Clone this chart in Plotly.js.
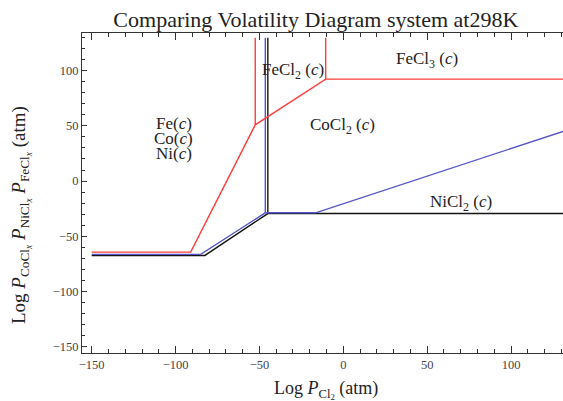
<!DOCTYPE html>
<html>
<head>
<meta charset="utf-8">
<script src="https://cdn.plot.ly/plotly-3.0.1.min.js"></script>
<style>
html,body{margin:0;padding:0;background:#fff;overflow:hidden;}
#chart{width:563px;height:401px;}
</style>
</head>
<body>
<div id="chart"></div>
<script>
// Fe system (red)
const feX = [-150, -91, -52.5, -10.5, 131];
const feY = [-64.5, -64.5, 51, 92.5, 92.5];
const feV1X = [-52.5, -52.5];
const feV1Y = [51, 130];
const feV2X = [-10.5, -10.5];
const feV2Y = [92.5, 130];
// Co system (blue)
const coX = [-150, -85, -46.5, -16.5, 131];
const coY = [-66.5, -66.5, -28.8, -28.8, 45];
const coVX = [-46.5, -46.5];
const coVY = [-28.8, 130];
// Ni system (black)
const niX = [-150, -82.5, -45, 131];
const niY = [-67.5, -67.5, -29.5, -29.5];
const niVX = [-45, -45];
const niVY = [-29.5, 130];

// region labels
const labelText = ["Fe(<i>c</i>)", "Co(<i>c</i>)", "Ni(<i>c</i>)",
  "FeCl<sub>2</sub> (<i>c</i>)", "FeCl<sub>3</sub> (<i>c</i>)",
  "CoCl<sub>2</sub> (<i>c</i>)", "NiCl<sub>2</sub> (<i>c</i>)"];
const labelX = [-101, -101, -101, -30, 50, -0.5, 70];
const labelY = [52.5, 38.8, 25.2, 100, 109.5, 49.5, -19.5];

const RED = 'rgb(255,60,60)';
const BLUE = 'rgb(85,85,200)';
const BLACK = 'rgb(20,20,20)';
const serif = 'Liberation Serif, Times New Roman, serif';

function tr(x, y, c) {
  return {x: x, y: y, type: 'scatter', mode: 'lines', line: {color: c, width: 1.4}, hoverinfo: 'skip', showlegend: false};
}
const traces = [
  tr(niX, niY, BLACK), tr(niVX, niVY, BLACK),
  tr(coX, coY, BLUE), tr(coVX, coVY, BLUE),
  tr(feX, feY, RED), tr(feV1X, feV1Y, RED), tr(feV2X, feV2Y, RED)
];

const annotations = labelText.map((t, i) => ({
  x: labelX[i], y: labelY[i], xref: 'x', yref: 'y', text: t, showarrow: false,
  font: {family: serif, size: 17, color: '#222'}, xanchor: 'center', yanchor: 'middle'
}));
annotations.push({
  xref: 'paper', yref: 'paper', x: 0.507, y: -0.117, xanchor: 'center', yanchor: 'middle',
  text: 'Log <i>P</i><sub>Cl<sub>2</sub></sub> (atm)', showarrow: false,
  font: {family: serif, size: 18, color: '#222'}
});
annotations.push({
  xref: 'paper', yref: 'paper', x: -0.127, y: 0.431, xanchor: 'center', yanchor: 'middle', textangle: -90,
  text: 'Log <i>P</i><sub>CoCl<sub><i>x</i></sub></sub> <i>P</i><sub>NiCl<sub><i>x</i></sub></sub> <i>P</i><sub>FeCl<sub><i>x</i></sub></sub> (atm)',
  showarrow: false, font: {family: serif, size: 19, color: '#222'}
});

const layout = {
  width: 563, height: 401,
  margin: {l: 82, r: 0, t: 33, b: 48},
  paper_bgcolor: '#fff', plot_bgcolor: '#fff',
  title: {text: 'Comparing Volatility Diagram system at298K', x: 0.561, xref: 'container', xanchor: 'center',
    y: 0.952, yref: 'container', yanchor: 'middle', font: {family: serif, size: 22, color: '#222'}},
  xaxis: {range: [-155.8, 131], showgrid: false, zeroline: false, showline: true, linecolor: '#333', linewidth: 1,
    mirror: 'ticks', ticks: 'inside', ticklen: 7, tickwidth: 1, tickcolor: '#333', dtick: 50, tick0: 0,
    minor: {ticks: 'inside', dtick: 10, tick0: 0, ticklen: 4, tickwidth: 1, tickcolor: '#333', showgrid: false},
    tickfont: {family: serif, size: 12.5, color: '#444'}, fixedrange: true},
  yaxis: {range: [-156, 134.3], showgrid: false, zeroline: false, showline: true, linecolor: '#333', linewidth: 1,
    mirror: false, ticks: 'inside', ticklen: 5, tickwidth: 1, tickcolor: '#333', dtick: 50, tick0: 0,
    minor: {ticks: 'inside', dtick: 10, tick0: 0, ticklen: 3, tickwidth: 1, tickcolor: '#333', showgrid: false},
    tickfont: {family: serif, size: 12.5, color: '#444'}, fixedrange: true},
  annotations: annotations
};
Plotly.newPlot('chart', traces, layout, {displayModeBar: false, staticPlot: true});
</script>
</body>
</html>
